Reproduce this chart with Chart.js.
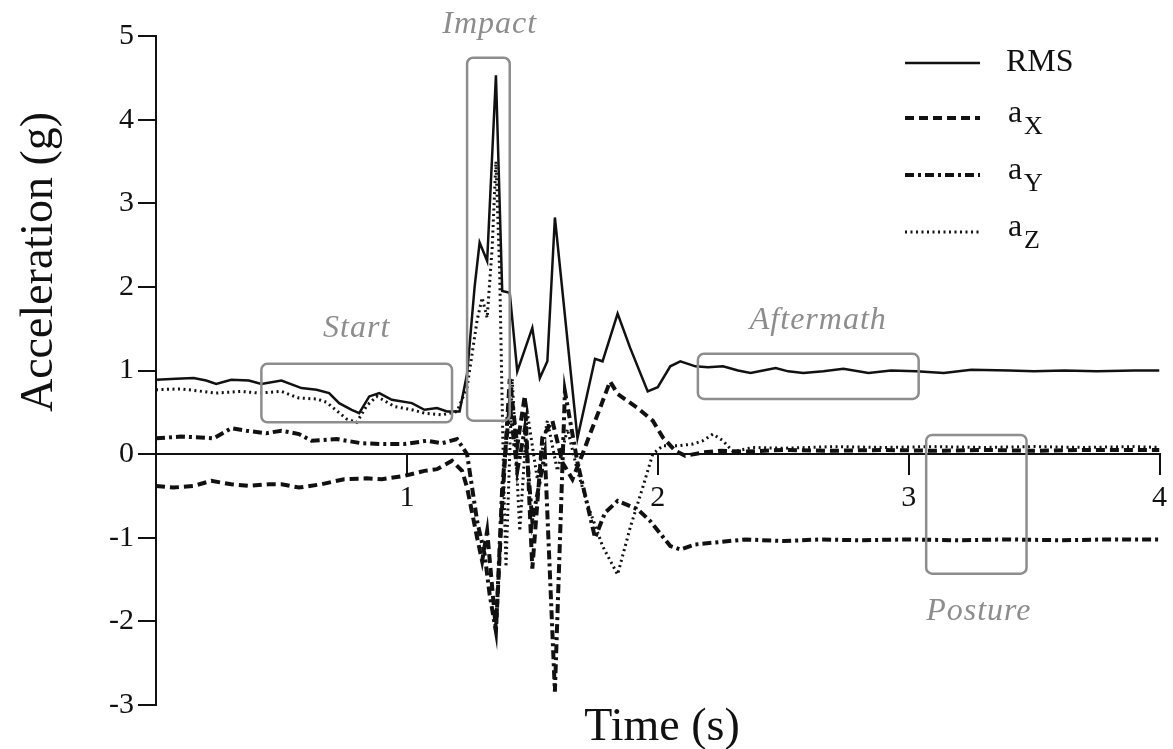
<!DOCTYPE html>
<html>
<head>
<meta charset="utf-8">
<title>Fall acceleration</title>
<script src="https://cdn.jsdelivr.net/npm/chart.js@4.4.1/dist/chart.umd.min.js"></script>
<style>
  html, body { margin: 0; padding: 0; background: #fff; }
  #wrap { width: 1173px; height: 749px; position: relative; }
</style>
</head>
<body>
<div id="wrap"><canvas id="accChart"></canvas></div>
<script>
// DATA (time s, acceleration g)
const rmsPts = [
  [0, 0.89], [0.08, 0.9], [0.15, 0.91], [0.2, 0.88], [0.24, 0.84], [0.3, 0.89], [0.37, 0.88],
  [0.42, 0.84], [0.5, 0.88], [0.58, 0.79], [0.64, 0.77], [0.69, 0.73], [0.73, 0.61], [0.78, 0.53],
  [0.81, 0.49], [0.85, 0.69], [0.89, 0.73], [0.94, 0.65], [1.02, 0.61], [1.07, 0.53], [1.12, 0.55],
  [1.16, 0.51], [1.21, 0.51], [1.24, 0.96], [1.27, 2.0], [1.29, 2.53], [1.32, 2.31], [1.355, 4.53],
  [1.38, 1.95], [1.41, 1.93], [1.44, 0.99], [1.5, 1.51], [1.53, 0.91], [1.56, 1.11], [1.59, 2.83],
  [1.68, 0.19], [1.75, 1.14], [1.78, 1.11], [1.84, 1.68], [1.89, 1.27], [1.96, 0.75], [2.0, 0.8],
  [2.05, 1.05], [2.09, 1.11], [2.15, 1.05], [2.2, 1.04], [2.26, 1.05], [2.32, 1.0], [2.37, 0.97],
  [2.42, 1.0], [2.47, 1.03], [2.52, 0.99], [2.58, 0.97], [2.66, 0.99], [2.74, 1.02], [2.84, 0.97],
  [2.93, 1.0], [3.03, 0.99], [3.14, 0.97], [3.25, 1.01], [3.4, 1.0], [3.5, 0.99], [3.62, 1.0],
  [3.75, 0.99], [3.9, 1.0], [4.0, 1.0]
];

const axPts = [
  [0, -0.38], [0.07, -0.4], [0.15, -0.38], [0.22, -0.32], [0.3, -0.36], [0.37, -0.38], [0.45, -0.36],
  [0.5, -0.36], [0.57, -0.4], [0.66, -0.36], [0.75, -0.3], [0.84, -0.29], [0.9, -0.3], [0.99, -0.26],
  [1.07, -0.2], [1.12, -0.18], [1.18, -0.08], [1.22, -0.2], [1.24, -0.4], [1.28, -1.0], [1.3, -1.28],
  [1.32, -0.92], [1.355, -2.1], [1.38, -0.6], [1.41, 0.9], [1.44, 0.1], [1.47, 0.7], [1.5, -1.37],
  [1.54, 0.2], [1.58, 0.4], [1.62, -0.1], [1.66, -0.3], [1.7, 0.0], [1.73, 0.24], [1.77, 0.55],
  [1.81, 0.87], [1.84, 0.72], [1.92, 0.55], [1.98, 0.4], [2.02, 0.2], [2.07, 0.04], [2.11, -0.02],
  [2.18, 0.02], [2.25, 0.04], [2.35, 0.03], [2.5, 0.05], [2.7, 0.04], [2.9, 0.05], [3.1, 0.04],
  [3.3, 0.05], [3.5, 0.04], [3.7, 0.05], [3.9, 0.05], [4.0, 0.05]
];

const ayPts = [
  [0, 0.19], [0.1, 0.21], [0.23, 0.19], [0.3, 0.31], [0.36, 0.28], [0.44, 0.25], [0.5, 0.28],
  [0.57, 0.24], [0.62, 0.16], [0.72, 0.18], [0.82, 0.13], [0.9, 0.12], [0.99, 0.12], [1.08, 0.16],
  [1.14, 0.13], [1.2, 0.18], [1.24, 0.0], [1.28, -0.8], [1.31, -1.2], [1.33, -1.68], [1.355, -2.12],
  [1.38, -0.4], [1.41, 0.6], [1.44, -0.2], [1.47, 0.3], [1.5, -0.8], [1.55, 0.0], [1.59, -2.84],
  [1.63, 0.75], [1.68, -0.1], [1.75, -1.0], [1.79, -0.7], [1.84, -0.56], [1.92, -0.66], [1.97, -0.8],
  [2.05, -1.1], [2.09, -1.14], [2.15, -1.08], [2.25, -1.05], [2.35, -1.02], [2.5, -1.04], [2.65, -1.02],
  [2.8, -1.03], [3.0, -1.02], [3.2, -1.03], [3.4, -1.02], [3.6, -1.03], [3.8, -1.02], [4.0, -1.02]
];

const azPts = [
  [0, 0.77], [0.1, 0.78], [0.24, 0.73], [0.34, 0.75], [0.41, 0.73], [0.5, 0.75], [0.57, 0.67],
  [0.64, 0.66], [0.68, 0.62], [0.72, 0.52], [0.76, 0.42], [0.8, 0.38], [0.84, 0.58], [0.88, 0.69],
  [0.95, 0.57], [1.02, 0.53], [1.07, 0.49], [1.14, 0.47], [1.2, 0.51], [1.24, 0.8], [1.28, 1.6],
  [1.3, 1.87], [1.32, 1.63], [1.34, 2.47], [1.355, 3.5], [1.37, 2.16], [1.385, -0.2], [1.395, -1.35],
  [1.42, 0.9], [1.45, -0.92], [1.48, 0.5], [1.52, -0.3], [1.56, 0.4], [1.6, -0.2], [1.64, 0.3],
  [1.68, -0.2], [1.72, -0.6], [1.78, -1.1], [1.84, -1.44], [1.89, -0.88], [1.94, -0.4], [1.98, 0.0],
  [2.02, 0.1], [2.08, 0.1], [2.14, 0.12], [2.18, 0.16], [2.22, 0.24], [2.26, 0.16], [2.3, 0.03],
  [2.38, 0.08], [2.5, 0.07], [2.7, 0.09], [2.9, 0.08], [3.1, 0.09], [3.3, 0.08], [3.5, 0.09],
  [3.7, 0.08], [3.9, 0.09], [4.0, 0.08]
];

// PHASE BOXES (in axis units)
const phaseNames = ["Start", "Impact", "Aftermath", "Posture"];
const phaseT = [[0.42, 1.18], [1.24, 1.41], [2.16, 3.04], [3.07, 3.47]];
const phaseV = [[0.38, 1.08], [0.40, 4.74], [0.66, 1.20], [-1.43, 0.23]];
const phaseLabelAt = [[0.80, 1.5], [1.33, 5.14], [2.64, 1.6], [3.28, -1.88]];

const SERIF = '"Liberation Serif", "DejaVu Serif", serif';
const INK = "#111111";
const GREY = "#8d8d8d";

function toXY(pts) {
  return pts.map(p => ({ x: p[0], y: p[1] }));
}

// BOXES, LABELS, LEGEND, AXIS TITLES
const overlay = {
  id: "overlay",
  afterDraw(chart) {
    const { ctx, scales: { x, y } } = chart;
    ctx.save();

    phaseNames.forEach((name, i) => {
      const left = x.getPixelForValue(phaseT[i][0]);
      const right = x.getPixelForValue(phaseT[i][1]);
      const top = y.getPixelForValue(phaseV[i][1]);
      const bottom = y.getPixelForValue(phaseV[i][0]);
      ctx.strokeStyle = GREY;
      ctx.lineWidth = 2.5;
      ctx.setLineDash([]);
      ctx.beginPath();
      ctx.roundRect(left, top, right - left, bottom - top, 6);
      ctx.stroke();

      ctx.fillStyle = GREY;
      ctx.font = "italic 32px " + SERIF;
      ctx.letterSpacing = "1px";
      ctx.textAlign = "center";
      ctx.textBaseline = "middle";
      ctx.fillText(name, x.getPixelForValue(phaseLabelAt[i][0]), y.getPixelForValue(phaseLabelAt[i][1]));
    });
    ctx.letterSpacing = "0px";

    // legend
    const rows = [63, 118, 175, 232];
    chart.data.datasets.forEach((ds, i) => {
      const ly = rows[i];
      ctx.strokeStyle = INK;
      ctx.lineWidth = ds.borderWidth;
      ctx.setLineDash(ds.borderDash || []);
      ctx.beginPath();
      ctx.moveTo(905, ly);
      ctx.lineTo(980, ly);
      ctx.stroke();
      ctx.setLineDash([]);

      ctx.fillStyle = INK;
      ctx.textAlign = "left";
      ctx.textBaseline = "middle";
      if (ds.label === "RMS") {
        ctx.font = "32px " + SERIF;
        ctx.fillText("RMS", 1006, ly);
      } else {
        ctx.font = "32px " + SERIF;
        ctx.fillText("a", 1008, ly - 4);
        ctx.font = "26px " + SERIF;
        ctx.fillText(ds.label.slice(1), 1024, ly + 9);
      }
    });

    // axis titles
    ctx.fillStyle = INK;
    ctx.font = "46px " + SERIF;
    ctx.textAlign = "center";
    ctx.textBaseline = "alphabetic";
    ctx.fillText("Time (s)", 662, 740);

    ctx.translate(52, 262);
    ctx.rotate(-Math.PI / 2);
    ctx.fillText("Acceleration (g)", 0, 0);

    ctx.restore();
  }
};

window.onload = function () {
  const ctx = document.getElementById("accChart").getContext("2d");

  new Chart(ctx, {
    type: "line",
    data: {
      datasets: [
        { label: "RMS", data: toXY(rmsPts), borderColor: INK, borderWidth: 2.5, borderDash: [] },
        { label: "aX", data: toXY(axPts), borderColor: INK, borderWidth: 4, borderDash: [9, 5] },
        { label: "aY", data: toXY(ayPts), borderColor: INK, borderWidth: 4, borderDash: [9, 4, 3, 4] },
        { label: "aZ", data: toXY(azPts), borderColor: INK, borderWidth: 3, borderDash: [2, 3.5] }
      ]
    },
    options: {
      responsive: true,
      maintainAspectRatio: false,
      animation: false,
      layout: { padding: { left: 0, right: 9, top: 36, bottom: 44 } },
      elements: {
        point: { radius: 0 },
        line: { tension: 0, fill: false }
      },
      plugins: {
        legend: { display: false },
        tooltip: { enabled: false }
      },
      scales: {
        x: {
          type: "linear",
          min: 0,
          max: 4,
          position: { y: 0 },
          ticks: {
            stepSize: 1,
            padding: 6,
            maxRotation: 0,
            color: INK,
            font: { family: SERIF, size: 30 },
            callback: v => (v === 0 ? "" : v)
          },
          grid: { drawOnChartArea: false, tickLength: 20, color: INK, lineWidth: 2 },
          border: { color: INK, width: 2 }
        },
        y: {
          min: -3,
          max: 5,
          ticks: {
            stepSize: 1,
            padding: 4,
            color: INK,
            font: { family: SERIF, size: 30 }
          },
          grid: { drawOnChartArea: false, tickLength: 18, color: INK, lineWidth: 2 },
          border: { color: INK, width: 2 },
          afterFit: s => { s.width = 156; }
        }
      }
    },
    plugins: [overlay]
  });
};
</script>
</body>
</html>
